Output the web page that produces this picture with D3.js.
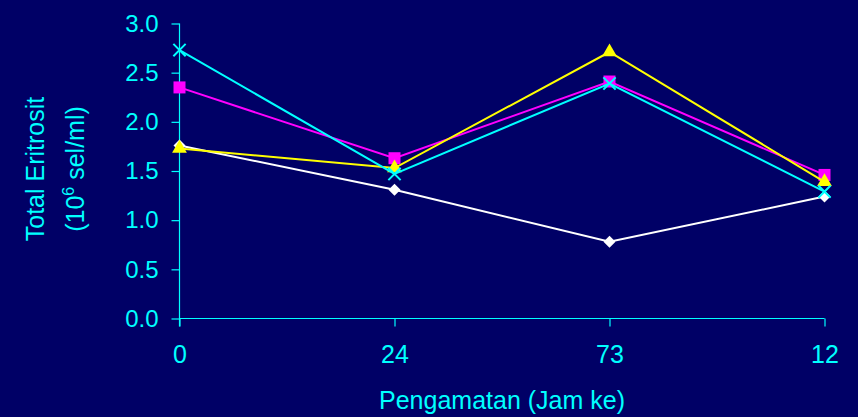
<!DOCTYPE html>
<html>
<head>
<meta charset="utf-8">
<script src="https://cdn.jsdelivr.net/npm/d3@7"></script>
<style>
  html, body { margin: 0; padding: 0; background: #000066; }
  svg { display: block; }
  text { font-family: Arial, "Liberation Sans", sans-serif; fill: #00ffff; }
</style>
</head>
<body>
<svg id="chart" width="858" height="417"></svg>
<script>
// Observation times (hours) and red blood cell totals per treatment
const categories = ["0", "24", "73", "12"];
const seriesDiamond  = [1.76, 1.31, 0.78, 1.24];
const seriesSquare   = [2.35, 1.63, 2.41, 1.46];
const seriesTriangle = [1.73, 1.53, 2.71, 1.39];
const seriesCross    = [2.73, 1.47, 2.39, 1.29];
const yTicks = [0, 0.5, 1.0, 1.5, 2.0, 2.5, 3.0];

const axisColor = "#00ffff";
const svg = d3.select("#chart");
svg.append("rect").attr("width", 858).attr("height", 417).attr("fill", "#000066");

const x = d3.scalePoint().domain(categories).range([179.5, 824.5]).padding(0);
const y = d3.scaleLinear().domain([0, 3]).range([318.5, 23.5]);

// Y axis
const gy = svg.append("g").attr("transform", "translate(179.5,0)")
  .call(d3.axisLeft(y).tickValues(yTicks).tickFormat(d3.format(".1f"))
    .tickSize(8).tickSizeOuter(0).tickPadding(13));
gy.select(".domain").remove();
gy.selectAll(".tick line").attr("stroke", axisColor).attr("stroke-width", 1.2);
gy.selectAll(".tick text").attr("font-size", 24).attr("fill", axisColor)
  .attr("font-family", "Arial, 'Liberation Sans', sans-serif");
gy.append("line").attr("x1", 0).attr("x2", 0)
  .attr("y1", y(3)).attr("y2", y(0) + 8)
  .attr("stroke", axisColor).attr("stroke-width", 1.2);

// X axis
const gx = svg.append("g").attr("transform", `translate(0,${y(0)})`)
  .call(d3.axisBottom(x).tickSize(8).tickSizeOuter(0).tickPadding(19));
gx.select(".domain").attr("stroke", axisColor).attr("stroke-width", 1.2)
  .attr("d", `M${x(categories[0])},0H${x(categories[categories.length - 1])}`);
gx.selectAll(".tick line").attr("stroke", axisColor).attr("stroke-width", 1.2);
gx.selectAll(".tick text").attr("font-size", 25).attr("fill", axisColor)
  .attr("font-family", "Arial, 'Liberation Sans', sans-serif");

// Axis titles
svg.append("text").attr("x", 502).attr("y", 409).attr("text-anchor", "middle")
  .attr("font-size", 25).text("Pengamatan (Jam ke)");

const yTitle = svg.append("g").attr("transform", "translate(0,169) rotate(-90)");
yTitle.append("text").attr("x", 0).attr("y", 44).attr("text-anchor", "middle")
  .attr("font-size", 25).text("Total Eritrosit");
const t2 = yTitle.append("text").attr("x", 0).attr("y", 84).attr("text-anchor", "middle")
  .attr("font-size", 25);
t2.append("tspan").text("(10");
t2.append("tspan").attr("font-size", 16).attr("dy", -10).text("6");
t2.append("tspan").attr("dy", 10).text(" sel/ml)");

// Series
const series = [
  { values: seriesDiamond,  color: "#ffffff", marker: "diamond" },
  { values: seriesSquare,   color: "#ff00ff", marker: "square" },
  { values: seriesTriangle, color: "#ffff00", marker: "triangle" },
  { values: seriesCross,    color: "#00ffff", marker: "cross" }
];

const line = d3.line().x((d, i) => x(categories[i])).y(d => y(d));

series.forEach(s => {
  const g = svg.append("g");
  g.append("path").datum(s.values).attr("d", line)
    .attr("fill", "none").attr("stroke", s.color).attr("stroke-width", 2);
  const pts = g.selectAll("path.m").data(s.values).join("path").attr("class", "m")
    .attr("transform", (d, i) => {
      const base = `translate(${x(categories[i])},${y(d)})`;
      return s.marker === "diamond" ? base + " rotate(45)" : base;
    });
  if (s.marker === "diamond") {
    pts.attr("d", d3.symbol(d3.symbolSquare, 72)).attr("fill", s.color);
  } else if (s.marker === "square") {
    pts.attr("d", d3.symbol(d3.symbolSquare, 144)).attr("fill", s.color);
  } else if (s.marker === "triangle") {
    pts.attr("d", d3.symbol(d3.symbolTriangle, 95)).attr("fill", s.color);
  } else {
    pts.attr("d", d3.symbol(d3.symbolX, 100)).attr("fill", "none")
      .attr("stroke", s.color).attr("stroke-width", 2);
  }
});
</script>
</body>
</html>
